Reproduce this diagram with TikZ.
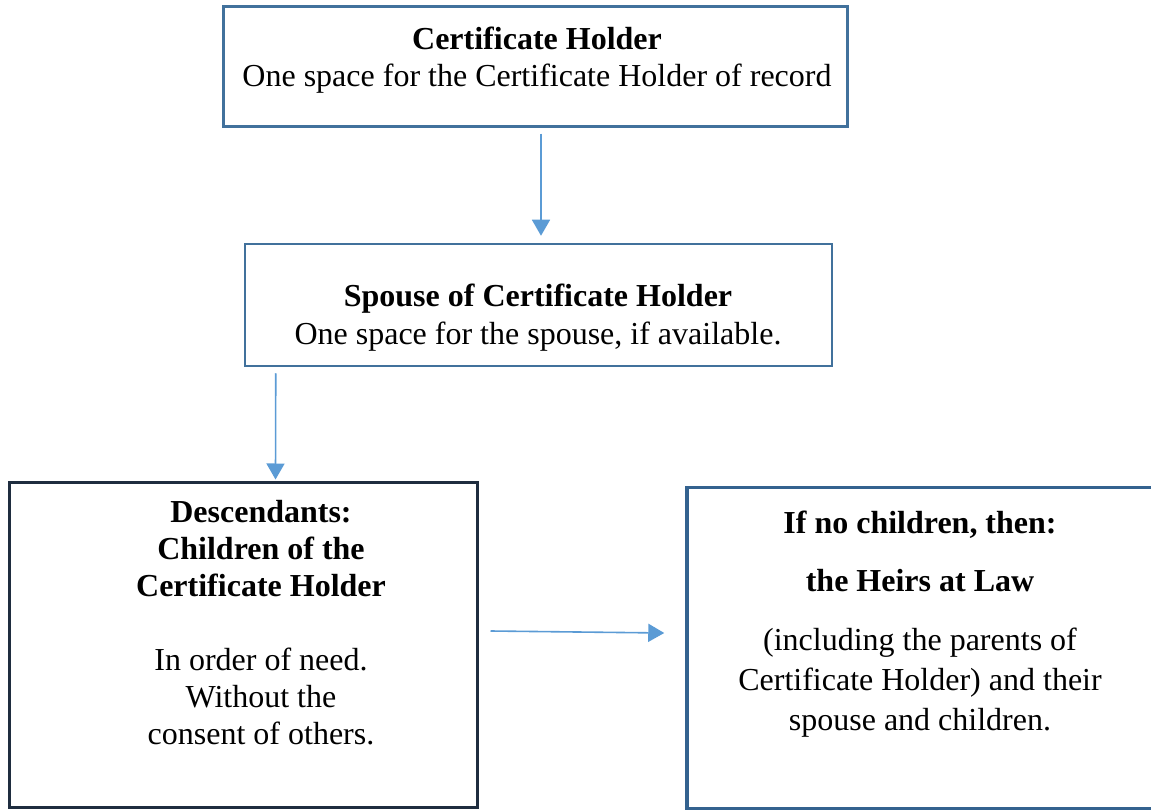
\documentclass[tikz,border=0pt]{standalone}
\usepackage{fontspec}
\setmainfont{Liberation Serif}
\usetikzlibrary{arrows.meta,positioning}
\definecolor{box edge}{HTML}{41719C}
\definecolor{dark edge}{HTML}{1F2D3F}
\definecolor{heir edge}{HTML}{34628F}
\definecolor{flow line}{HTML}{5B9BD5}
\tikzset{box/.style={draw=box edge, line width=2.5pt, rectangle, inner sep=0pt},
    words/.style={align=center, anchor=base, inner sep=0pt,
        font=\fontsize{32}{37}\selectfont},
    flow/.style={draw=flow line, line width=1.6pt,
        -{Triangle[width=18pt,length=16pt]}}}

\begin{document}
\begin{tikzpicture}[x=1pt,y=-1pt]
    \useasboundingbox (0,0) rectangle (1151,810);
    % the four boxes
    \node[box, minimum width=624pt, minimum height=120pt] (holder) at (535.5,66.5) {};
    \node[box, minimum width=587pt, minimum height=122pt] (spouse) at (538.5,305) {};
    \node[box, draw=dark edge, line width=3pt,
          minimum width=467.5pt, minimum height=325pt] (descend) at (243.25,644.5) {};
    \node[box, draw=heir edge, line width=3.5pt,
          minimum width=471pt, minimum height=321pt] (heirs) at (922.5,648) {};
    % texts (anchored at the base of the last line)
    \node[words] (holder text) at (537,87)
        {\textbf{Certificate Holder}\\One space for the Certificate Holder of record};
    \node[words] (spouse text) at (538,344)
        {\textbf{Spouse of Certificate Holder}\\One space for the spouse, if available.};
    \node[words] (descend text) at (261,744)
        {\textbf{Descendants:}\\\textbf{Children of the}\\\textbf{Certificate Holder}\\[37pt]
         In order of need.\\Without the\\consent of others.};
    \node[words] (heirs text) at (920,730)
        {\textbf{If no children, then:}\\[21pt]\textbf{the Heirs at Law}\\[22pt]
         (including the parents of\\[3pt]Certificate Holder) and their\\[3pt]spouse and children.};
    % arrows
    \draw[flow] ([xshift=5.5pt,yshift=-6pt]holder.south) -- ([xshift=2.5pt,yshift=7pt]spouse.north);
    \draw[flow] ([xshift=32pt,yshift=-6pt]spouse.south west) -- ([xshift=267.5pt,yshift=1pt]descend.north west);
    \draw[flow] ([xshift=12pt,yshift=13.5pt]descend.east) -- ([xshift=-21pt,yshift=15pt]heirs.west);
\end{tikzpicture}
\end{document}
